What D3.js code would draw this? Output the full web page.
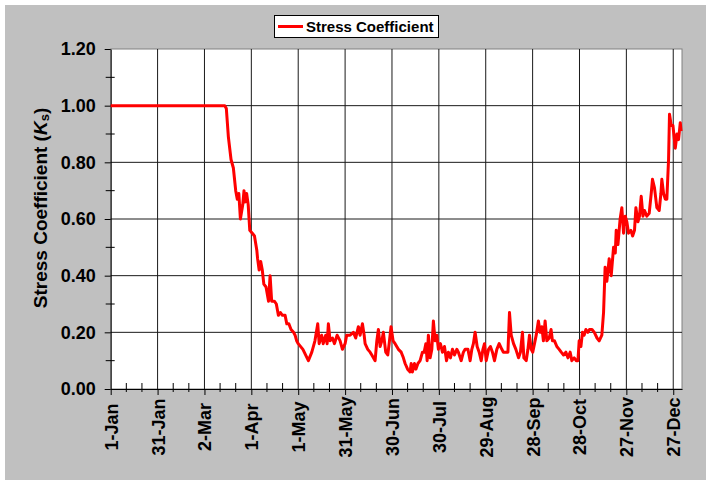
<!DOCTYPE html>
<html lang="en">

<head>
    <meta charset="UTF-8">
    <title>Stress Coefficient</title>
    <style>
        body {
            margin: 0;
            background: #fff;
        }

        svg {
            display: block;
            font-family: "Liberation Sans", Arial, sans-serif;
            font-weight: bold;
        }
    </style>
</head>

<body>
    <svg width="707" height="484" viewBox="0 0 707 484"></svg>

    <script src="https://cdn.jsdelivr.net/npm/d3@7"></script>

    <script>
        // day of year (1 = 1-Jan) and the stress coefficient
        var days = [1, 74, 75, 76.3, 78, 79.5, 81, 82, 83, 84, 85.5, 86.3, 87, 88, 89, 90, 91.6, 93, 94.5, 95,
            96, 97, 98, 99, 100.4, 102, 103, 104, 105.7, 107, 108.3, 109.6, 110.9, 112.6, 113.7, 115, 116.4, 118, 119, 120,
            121, 124, 127.5, 129.7, 131.7, 133.5, 134.4, 136, 137, 138.6, 139.5, 140.3, 141.4, 142.9, 144.2, 145.9, 147.8, 149.3, 151, 152,
            154.2, 156.3, 157.8, 159.5, 160.6, 162.1, 163.2, 163.8, 165.5, 167, 168.1, 170.2, 171.3, 172.3, 173.4, 174.5, 175.5, 177, 178.3, 179.2,
            180.4, 181.7, 183, 185.1, 186.9, 188.3, 189.4, 191, 192.6, 193.3, 194.1, 195.4, 196.3, 197.6, 199, 200.5, 201.6, 202.7, 203.5, 204.3,
            205.4, 206.5, 207.5, 208.6, 209.7, 210.7, 212, 213.3, 214.6, 215.9, 217.1, 218.4, 219.7, 221, 222.5, 223.5, 225.3, 226.7, 227.8, 229.6,
            231, 232.1, 233.1, 234.2, 235.5, 236.8, 238.1, 239.2, 240.2, 241.3, 242.8, 244, 245.3, 246.6, 248.1, 249.6, 251.3, 252.3, 253.9, 255.2,
            256.2, 257.3, 258.8, 260.3, 262, 263.2, 264.5, 265.4, 266.9, 268, 269, 270.1, 271.1, 272.2, 273.3, 274.7, 275.8, 276.9, 277.9, 279,
            280.1, 281.6, 282.8, 283.7, 285, 286.5, 288, 289.3, 290.8, 292.3, 293.6, 295, 296.1, 297.6, 298.9, 300, 300.8, 301.9, 302.9, 304,
            305.1, 306.4, 307.4, 309, 310.5, 312.2, 313.6, 315.3, 316.4, 317.4, 318.5, 320, 321.3, 322.8, 323.9, 324.5, 325.6, 327, 328.1, 329.2,
            330.3, 331.3, 332.4, 333.9, 335, 336.2, 337.1, 338.4, 339.4, 340.5, 341.6, 342.6, 344.1, 345.6, 346.9, 347.7, 349, 350.5, 352, 353.1,
            353.7, 354.8, 355.9, 356.9, 358, 358.6, 359.7, 360.8, 362.3, 363.4, 364.4, 365.5, 366];

        var ks = [1.00, 1.00, 0.99, 0.89, 0.81, 0.78, 0.70, 0.67, 0.69, 0.60, 0.65, 0.70, 0.66, 0.69, 0.65, 0.56, 0.55, 0.54, 0.49, 0.46,
            0.42, 0.45, 0.42, 0.37, 0.36, 0.31, 0.40, 0.31, 0.31, 0.30, 0.26, 0.27, 0.26, 0.26, 0.23, 0.23, 0.21, 0.20, 0.19, 0.17,
            0.16, 0.14, 0.10, 0.13, 0.17, 0.23, 0.16, 0.19, 0.16, 0.19, 0.16, 0.23, 0.17, 0.18, 0.16, 0.19, 0.17, 0.14, 0.16, 0.19,
            0.19, 0.20, 0.18, 0.22, 0.19, 0.23, 0.19, 0.16, 0.14, 0.13, 0.12, 0.10, 0.17, 0.21, 0.15, 0.17, 0.20, 0.13, 0.12, 0.16,
            0.22, 0.17, 0.16, 0.14, 0.13, 0.11, 0.09, 0.07, 0.06, 0.09, 0.06, 0.09, 0.07, 0.09, 0.10, 0.13, 0.13, 0.16, 0.10, 0.19,
            0.11, 0.14, 0.24, 0.17, 0.19, 0.14, 0.16, 0.13, 0.15, 0.10, 0.13, 0.11, 0.14, 0.12, 0.14, 0.13, 0.10, 0.13, 0.14, 0.14,
            0.10, 0.14, 0.16, 0.20, 0.15, 0.13, 0.10, 0.14, 0.16, 0.10, 0.14, 0.15, 0.13, 0.10, 0.14, 0.16, 0.14, 0.13, 0.13, 0.13,
            0.27, 0.19, 0.16, 0.14, 0.11, 0.13, 0.20, 0.11, 0.10, 0.14, 0.19, 0.14, 0.13, 0.16, 0.19, 0.24, 0.20, 0.22, 0.17, 0.24,
            0.17, 0.18, 0.21, 0.17, 0.17, 0.15, 0.14, 0.13, 0.12, 0.13, 0.11, 0.13, 0.10, 0.11, 0.10, 0.10, 0.17, 0.15, 0.20, 0.19,
            0.21, 0.20, 0.21, 0.21, 0.20, 0.18, 0.17, 0.19, 0.27, 0.43, 0.38, 0.46, 0.40, 0.50, 0.48, 0.56, 0.51, 0.60, 0.64, 0.55,
            0.61, 0.59, 0.55, 0.56, 0.54, 0.56, 0.64, 0.59, 0.61, 0.68, 0.61, 0.63, 0.61, 0.62, 0.69, 0.74, 0.71, 0.64, 0.63, 0.69,
            0.74, 0.69, 0.67, 0.67, 0.81, 0.97, 0.93, 0.93, 0.85, 0.90, 0.88, 0.94, 0.91];

        // x tick labels, one every 30 days
        var xTickDays = [1, 31, 61, 91, 121, 151, 181, 211, 241, 271, 301, 331, 361];
        var xTickLabels = ['1-Jan', '31-Jan', '2-Mar', '1-Apr', '1-May', '31-May', '30-Jun',
            '30-Jul', '29-Aug', '28-Sep', '28-Oct', '27-Nov', '27-Dec'];
        var yTicks = [0, 0.2, 0.4, 0.6, 0.8, 1.0, 1.2];
        var seriesName = 'Stress Coefficient';

        var svg = d3.select('svg');

        // plot area edges
        var pL = 110.7, pR = 682, pT = 49, pB = 389;

        // grey chart background
        svg.append('rect')
            .attr('x', 5).attr('y', 5)
            .attr('width', 701).attr('height', 475)
            .attr('fill', '#c0c0c0');

        svg.append('rect')
            .attr('x', pL).attr('y', pT)
            .attr('width', pR - pL).attr('height', pB - pT)
            .attr('fill', '#fff')
            .attr('stroke', '#808080')
            .attr('stroke-width', 1);

        var x = d3.scaleLinear().domain([1, 366.6]).range([pL, pR]);
        var y = d3.scaleLinear().domain([0, 1.2]).range([pB, pT]);

        // grid lines
        var grid = svg.append('g').attr('stroke', '#1a1a1a').attr('stroke-width', 1);
        grid.selectAll('.gx').data(xTickDays.slice(1)).enter().append('line')
            .attr('x1', d => x(d)).attr('x2', d => x(d))
            .attr('y1', pT).attr('y2', pB);
        grid.selectAll('.gy').data(yTicks.slice(1, -1)).enter().append('line')
            .attr('x1', pL).attr('x2', pR)
            .attr('y1', d => y(d)).attr('y2', d => y(d));

        // minor ticks cross the axis lines
        var minorX = d3.range(1, 366, 10).filter(d => xTickDays.indexOf(d) < 0);
        var minorY = [0.1, 0.3, 0.5, 0.7, 0.9, 1.1];
        svg.append('g').selectAll('line').data(minorX).enter().append('line')
            .attr('x1', d => x(d)).attr('x2', d => x(d))
            .attr('y1', pB - 6).attr('y2', pB + 3)
            .attr('stroke', '#000');
        svg.append('g').selectAll('line').data(minorY).enter().append('line')
            .attr('x1', pL - 5).attr('x2', pL + 4)
            .attr('y1', d => y(d)).attr('y2', d => y(d))
            .attr('stroke', '#000');

        // axes
        var axisX = d3.axisBottom(x)
            .tickValues(xTickDays)
            .tickSizeInner(6).tickSizeOuter(0)
            .tickFormat('');
        var gx = svg.append('g').attr('transform', 'translate(0,' + pB + ')').call(axisX);
        gx.select('.domain').attr('stroke', '#000');
        gx.selectAll('.tick line').attr('stroke', '#000');

        var axisY = d3.axisLeft(y)
            .tickValues(yTicks)
            .tickSizeInner(6).tickSizeOuter(0)
            .tickPadding(9)
            .tickFormat(d3.format('.2f'));
        var gy = svg.append('g').attr('transform', 'translate(' + pL + ',0)').call(axisY);
        gy.select('.domain').attr('stroke', '#000');
        gy.selectAll('.tick line').attr('stroke', '#000');
        gy.selectAll('.tick text')
            .attr('font-family', '"Liberation Sans", Arial, sans-serif')
            .attr('font-weight', 'bold')
            .attr('font-size', 18)
            .attr('fill', '#000');

        // rotated date labels, centred under each major tick
        svg.append('g').selectAll('text').data(xTickDays).enter().append('text')
            .attr('transform', d => 'translate(' + (x(d) + 1) + ',427) rotate(-90)')
            .attr('text-anchor', 'middle')
            .attr('dominant-baseline', 'central')
            .attr('font-size', 18)
            .text((d, i) => xTickLabels[i]);

        // y title with italic K and subscript s
        var title = svg.append('text')
            .attr('transform', 'translate(40,' + ((pT + pB) / 2 - 11) + ') rotate(-90)')
            .attr('text-anchor', 'middle')
            .attr('dominant-baseline', 'central')
            .attr('font-size', 19);
        title.append('tspan').text('Stress Coefficient (');
        title.append('tspan').attr('font-style', 'italic').text('K');
        title.append('tspan').attr('font-size', 13).attr('dy', 4).text('s');
        title.append('tspan').attr('dy', -4).text(')');

        // series line
        var line = d3.line()
            .x((d, i) => x(days[i]))
            .y(d => y(d));
        svg.append('path')
            .datum(ks)
            .attr('d', line)
            .attr('fill', 'none')
            .attr('stroke', '#ff0000')
            .attr('stroke-width', 3)
            .attr('stroke-linejoin', 'round');

        // legend
        var lg = svg.append('g');
        lg.append('rect')
            .attr('x', 274.5).attr('y', 15.5)
            .attr('width', 164).attr('height', 22)
            .attr('fill', '#fff').attr('stroke', '#000');
        lg.append('line')
            .attr('x1', 278).attr('x2', 303)
            .attr('y1', 26.5).attr('y2', 26.5)
            .attr('stroke', '#ff0000').attr('stroke-width', 3);
        lg.append('text')
            .attr('x', 306).attr('y', 26.5)
            .attr('dominant-baseline', 'central')
            .attr('font-size', 15)
            .text(seriesName);
    </script>
</body>

</html>
